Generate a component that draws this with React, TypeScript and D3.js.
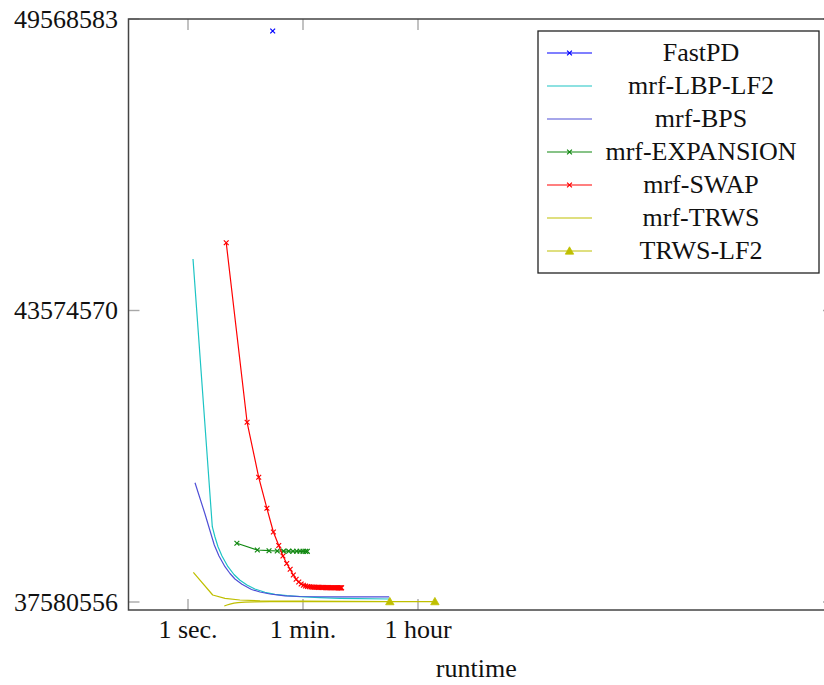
import React from "react";
import * as d3 from "d3";

// ---------- data ----------
const yTickValues = [37580556, 43574570, 49568583];
const xTickValues = [1, 60, 3600];
const xTickLabels = ["1 sec.", "1 min.", "1 hour"];
const xAxisLabel = "runtime";

const fastPdT = [20.4];
const fastPdV = [49321829];

const lbpT = [1.195, 2.375, 2.614, 2.91, 3.354, 4.15, 5.14, 6.37, 8.17, 10.8, 15.5, 22.1, 33.9, 53.9, 109.7, 224, 1292];
const lbpV = [44633556, 39128924, 38917128, 38717671, 38526438, 38306418, 38146029, 38026766, 37930121, 37847870, 37780014, 37738888, 37710101, 37691594, 37671032, 37656638, 37642244];

const bpsT = [1.283, 1.831, 2.55, 3.014, 3.73, 4.46, 5.32, 6.83, 9.6, 12.97, 18.5, 31.6, 53.9, 224, 1292];
const bpsV = [40033680, 39390069, 38752627, 38526438, 38306418, 38166592, 38053497, 37944515, 37837589, 37786183, 37745057, 37708044, 37693651, 37687482, 37687482];

const expT = [5.7, 11.8, 17.9, 24.0, 30.0, 36.0, 42.0, 48.0, 54.0, 60.0, 66.0, 70.0];
const expV = [38787584, 38649814, 38635420, 38629251, 38627000, 38625500, 38624500, 38623800, 38623300, 38622900, 38622600, 38622400];

const swapT = [3.9, 8.2, 12.4, 16.6, 20.9, 25.3, 29.4, 33.6, 38.0, 42.5, 47.0, 51.6, 56.2, 60.9, 65.6, 70.4, 75.2, 80.1, 85.0, 90.0, 95.0, 100, 105, 110, 115, 120, 126, 132, 138, 144, 150, 156, 162, 168, 175, 182, 189, 196, 203, 210, 217, 224, 231, 237];
const swapV = [44968716, 41275664, 40144718, 39507276, 39019942, 38742346, 38526438, 38372218, 38252955, 38135748, 38047328, 37991809, 37950684, 37926009, 37909558, 37899277, 37893108, 37888996, 37886900, 37884883, 37883800, 37882827, 37881800, 37880771, 37879700, 37878714, 37877700, 37876658, 37876000, 37875400, 37874900, 37874602, 37874300, 37874000, 37873700, 37873400, 37873100, 37872900, 37872700, 37872500, 37872300, 37872100, 37871900, 37871700];

const trwsT = [1.21, 2.41, 3.73, 6.35, 13, 54, 1320];
const trwsV = [38191267, 37724495, 37656638, 37621681, 37605231, 37597006, 37590837];

const trwsLf2T = [3.64, 4.01, 4.46, 5.14, 5.92, 7.6, 10.8, 18.5, 1320, 6570];
const trwsLf2V = [37498305, 37518868, 37537374, 37555881, 37568218, 37578500, 37584669, 37586725, 37588781, 37588781];
const trwsLf2MarkT = [1320, 6570];
const trwsLf2MarkV = [37588781, 37588781];

type Series = {
  name: string;
  t: number[];
  v: number[];
  color: string;
  mark: "x" | "tri" | null;
  markT?: number[];
  markV?: number[];
};

const series: Series[] = [
  { name: "FastPD", t: fastPdT, v: fastPdV, color: "#0000ff", mark: "x" },
  { name: "mrf-LBP-LF2", t: lbpT, v: lbpV, color: "#1cc4c4", mark: null },
  { name: "mrf-BPS", t: bpsT, v: bpsV, color: "#4f4fd6", mark: null },
  { name: "mrf-EXPANSION", t: expT, v: expV, color: "#118811", mark: "x" },
  { name: "mrf-SWAP", t: swapT, v: swapV, color: "#ff0000", mark: "x" },
  { name: "mrf-TRWS", t: trwsT, v: trwsV, color: "#bfbf00", mark: null },
  { name: "TRWS-LF2", t: trwsLf2T, v: trwsLf2V, color: "#bfbf00", mark: "tri", markT: trwsLf2MarkT, markV: trwsLf2MarkV },
];

// ---------- layout ----------
const W = 824;
const H = 685;
const box = { left: 128.5, right: 834, top: 19, bottom: 610 };
const FONT = "Liberation Serif, DejaVu Serif, Times New Roman, serif";
const FS = 26;

function Marker({ kind, x, y, color }: { kind: "x" | "tri"; x: number; y: number; color: string }) {
  if (kind === "x") {
    const s = 2.4;
    return (
      <path
        d={`M${x - s},${y - s}L${x + s},${y + s}M${x - s},${y + s}L${x + s},${y - s}`}
        stroke={color}
        strokeWidth={1.2}
        fill="none"
      />
    );
  }
  const s = 4.2;
  return (
    <path
      d={`M${x},${y - s}L${x + s},${y + s * 0.75}L${x - s},${y + s * 0.75}Z`}
      fill={color}
      stroke={color}
      strokeWidth={0.8}
    />
  );
}

export default function App() {
  const x = d3.scaleLog().domain([1, 3600]).range([188, 418]);
  const y = d3.scaleLinear().domain([37580556, 49568583]).range([602, 19]);
  const line = d3
    .line<[number, number]>()
    .x((d) => x(d[0]))
    .y((d) => y(d[1]));

  const tickLen = 11;
  const legend = { x: 538, y: 31, w: 281, h: 242, row0: 53, rowH: 33, sx0: 547, sx1: 592, tx: 701 };

  return (
    <svg
      width={W}
      height={H}
      style={{ position: "absolute", left: 0, top: 0, fontFamily: FONT }}
    >
      <defs>
        <clipPath id="plotclip">
          <rect x={box.left} y={box.top} width={box.right - box.left} height={box.bottom - box.top} />
        </clipPath>
      </defs>
      <rect width={W} height={H} fill="#fff" />

      {/* ticks */}
      <g stroke="#a8a8a8" strokeWidth={1.4}>
        {xTickValues.map((t) => (
          <g key={"xt" + t}>
            <line x1={x(t)} x2={x(t)} y1={box.bottom} y2={box.bottom - tickLen} />
            <line x1={x(t)} x2={x(t)} y1={box.top} y2={box.top + tickLen} />
          </g>
        ))}
        {yTickValues.map((v) => (
          <g key={"yt" + v}>
            <line x1={box.left} x2={box.left + tickLen} y1={y(v)} y2={y(v)} />
            <line x1={box.right} x2={box.right - tickLen} y1={y(v)} y2={y(v)} />
          </g>
        ))}
      </g>

      {/* series */}
      <g clipPath="url(#plotclip)">
        {series.map((s) => {
          const pts: [number, number][] = s.t.map((t, i) => [t, s.v[i]]);
          const mt = s.markT ?? s.t;
          const mv = s.markV ?? s.v;
          return (
            <g key={s.name}>
              {pts.length > 1 && (
                <path d={line(pts) || ""} fill="none" stroke={s.color} strokeWidth={1.2} strokeLinejoin="round" />
              )}
              {s.mark &&
                mt.map((t, i) => (
                  <Marker key={i} kind={s.mark!} x={x(t)} y={y(mv[i])} color={s.color} />
                ))}
            </g>
          );
        })}
      </g>

      {/* axis box */}
      <rect
        x={box.left}
        y={box.top}
        width={box.right - box.left}
        height={box.bottom - box.top}
        fill="none"
        stroke="#444"
        strokeWidth={1.5}
      />

      {/* tick labels */}
      <g fontSize={FS} fill="#111" style={{ fontFamily: FONT }}>
        {yTickValues.map((v) => (
          <text key={"yl" + v} x={118} y={y(v) + 8.5} textAnchor="end">
            {v}
          </text>
        ))}
        {xTickValues.map((t, i) => (
          <text key={"xl" + t} x={x(t)} y={638} textAnchor="middle">
            {xTickLabels[i]}
          </text>
        ))}
        <text x={(box.left + box.right - 10) / 2} y={677} textAnchor="middle">
          {xAxisLabel}
        </text>
      </g>

      {/* legend */}
      <g style={{ fontFamily: FONT }}>
        <rect x={legend.x} y={legend.y} width={legend.w} height={legend.h} fill="#fff" stroke="#222" strokeWidth={1.3} />
        {series.map((s, i) => {
          const ry = legend.row0 + i * legend.rowH;
          const mx = (legend.sx0 + legend.sx1) / 2;
          return (
            <g key={"lg" + s.name}>
              <line x1={legend.sx0} x2={legend.sx1} y1={ry} y2={ry} stroke={s.color} strokeWidth={1.2} />
              {s.mark && <Marker kind={s.mark} x={mx} y={ry} color={s.color} />}
              <text x={legend.tx} y={ry + 7.5} textAnchor="middle" fontSize={FS} fill="#111">
                {s.name}
              </text>
            </g>
          );
        })}
      </g>
    </svg>
  );
}
